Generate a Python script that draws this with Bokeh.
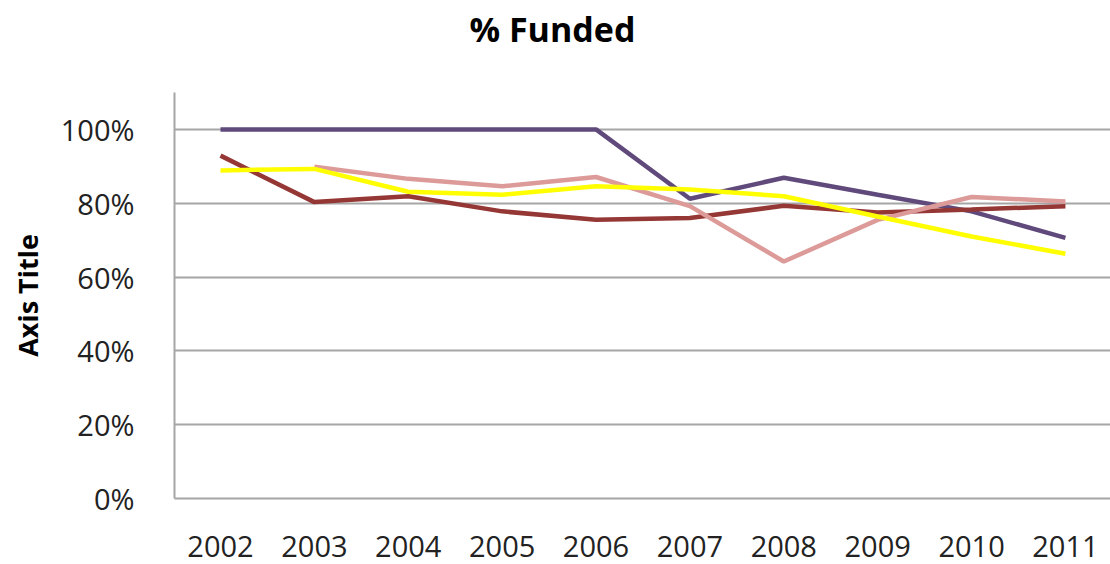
from bokeh.plotting import figure
from bokeh.models import Range1d, FixedTicker, NumeralTickFormatter, CustomJSTickFormatter, Title
from bokeh.embed import file_html
from bokeh.resources import INLINE

years = [2002, 2003, 2004, 2005, 2006, 2007, 2008, 2009, 2010, 2011]
series_purple = [1.00, 1.00, 1.00, 1.00, 1.00, 0.812, 0.869, 0.823, 0.778, 0.706]
series_darkred = [0.929, 0.803, 0.819, 0.778, 0.755, 0.760, 0.793, 0.775, 0.783, 0.792]
pink_years = [2003, 2004, 2005, 2006, 2007, 2008, 2009, 2010, 2011]
series_pink = [0.899, 0.866, 0.846, 0.871, 0.792, 0.642, 0.755, 0.817, 0.805]
series_yellow = [0.889, 0.893, 0.831, 0.823, 0.846, 0.837, 0.819, 0.764, 0.710, 0.663]
y_ticks = [0, 0.2, 0.4, 0.6, 0.8, 1.0]
title_text = "% Funded"

FONT = "Open Sans"

p = figure(width=1110, height=564, output_backend="svg", toolbar_location=None,
           x_range=Range1d(2001.51, 2011.48), y_range=Range1d(0, 1.1),
           min_border_left=174, min_border_right=0, min_border_top=92, min_border_bottom=66)
p.outline_line_color = None

# spacer panel between the frame and the title, then the title itself
spacer = Title(text=" ", text_font=FONT, text_font_size="20px", standoff=10)
p.add_layout(spacer, "above")
main_title = Title(text=title_text, align="left", offset=295, text_font=FONT,
                   text_font_size="34px", text_font_style="bold", text_color="#000000",
                   standoff=4)
p.add_layout(main_title, "above")

p.xaxis.ticker = FixedTicker(ticks=years)
p.xaxis.formatter = CustomJSTickFormatter(code="return tick.toFixed(0);")
p.yaxis.ticker = FixedTicker(ticks=y_ticks)
p.yaxis.formatter = NumeralTickFormatter(format="0%")
for ax in (p.xaxis[0], p.yaxis[0]):
    ax.major_tick_line_color = None
    ax.minor_tick_line_color = None
    ax.axis_line_color = "#A6A6A6"
    ax.axis_line_width = 2
    ax.major_label_text_font = FONT
    ax.major_label_text_font_size = "29px"
    ax.major_label_text_color = "#222222"
p.xaxis.major_label_standoff = 31
p.yaxis.major_label_standoff = 34
p.yaxis.axis_label = "Axis Title"
p.yaxis.axis_label_text_font = FONT
p.yaxis.axis_label_text_font_size = "27px"
p.yaxis.axis_label_text_font_style = "bold"
p.yaxis.axis_label_text_color = "#000000"
p.yaxis.axis_label_standoff = 12

p.xgrid.grid_line_color = None
p.ygrid.ticker = FixedTicker(ticks=[0.2, 0.4, 0.6, 0.8, 1.0])
p.ygrid.grid_line_color = "#A6A6A6"
p.ygrid.grid_line_width = 2

p.line(years, series_purple, line_color="#604A7B", line_width=4.5)
p.line(years, series_darkred, line_color="#953735", line_width=4.5)
p.line(pink_years, series_pink, line_color="#DC9A98", line_width=4.5)
p.line(years, series_yellow, line_color="#FFFF00", line_width=4.5)

open("out.html", "w").write(file_html(p, INLINE))
